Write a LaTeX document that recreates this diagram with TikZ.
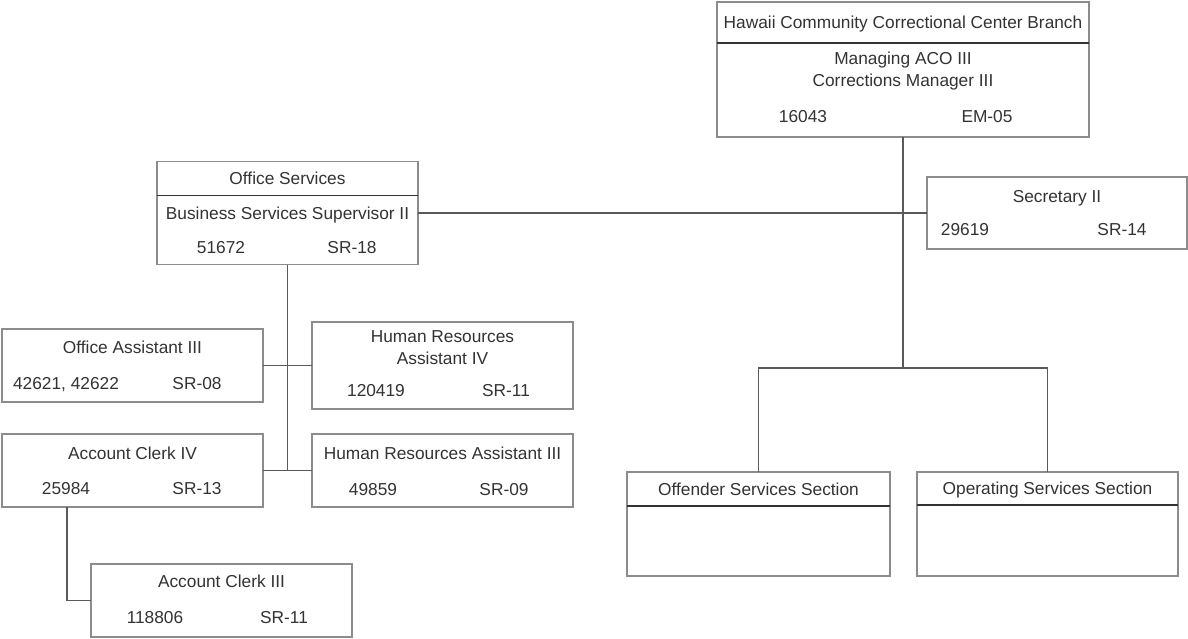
\documentclass[tikz,border=0pt]{standalone}
\usepackage{fontspec}
\setmainfont{Liberation Sans}
\usepackage{tikz}

\begin{document}
\begin{tikzpicture}[x=1pt,y=-1pt,
  box/.style={draw=boxGray, line width=1.1pt, fill=white, inner sep=0pt, outer sep=0pt},
  conn/.style={draw=lineGray, line width=1.1pt},
  divider/.style={draw=divGray, line width=1.3pt},
  lbl/.style={text=txtGray, inner sep=0pt, anchor=base,
    font=\fontsize{17.3}{22}\selectfont}]

% Colori
\definecolor{boxGray}{HTML}{8C8C8C}
\definecolor{lineGray}{HTML}{5A5A5A}
\definecolor{divGray}{HTML}{333333}
\definecolor{txtGray}{HTML}{333333}

\useasboundingbox (0,0) rectangle (1188,638);

% Riquadri
\node[box, minimum width=372pt, minimum height=135pt] (hccc) at (903,69.5) {};
\node[box, minimum width=260pt, minimum height=72pt] (sec) at (1057,213) {};
\node[box, minimum width=261pt, minimum height=103pt] (offsvc) at (287.5,213) {};
\node[box, minimum width=261pt, minimum height=73pt] (oa) at (132.5,365.5) {};
\node[box, minimum width=261pt, minimum height=87pt] (hr4) at (442.5,365.5) {};
\node[box, minimum width=261pt, minimum height=73pt] (ac4) at (132.5,470.5) {};
\node[box, minimum width=261pt, minimum height=73pt] (hr3) at (442.5,470.5) {};
\node[box, minimum width=261pt, minimum height=73pt] (ac3) at (221.5,600.5) {};
\node[box, minimum width=263pt, minimum height=104pt] (offender) at (758.5,524) {};
\node[box, minimum width=261pt, minimum height=104pt] (operating) at (1047.5,524) {};

% Linee di testata
\draw[divider] ([yshift=-41pt]hccc.north west) -- ([yshift=-41pt]hccc.north east);
\draw[divider] ([yshift=-34pt]offsvc.north west) -- ([yshift=-34pt]offsvc.north east);
\draw[divider] ([yshift=-34pt]offender.north west) -- ([yshift=-34pt]offender.north east);
\draw[divider] ([yshift=-33pt]operating.north west) -- ([yshift=-33pt]operating.north east);

% Collegamenti
\coordinate (split) at (903,368);
\draw[conn] (hccc.south) -- (split);
\draw[conn] (offender.north) |- (split) -| (operating.north);
\draw[conn] (offsvc.east) -- (sec.west);
\draw[conn] (offsvc.south) -- (offsvc.south |- hr3.west);
\draw[conn] (oa.east) -- (hr4.west);
\draw[conn] (ac4.east) -- (hr3.west);
\draw[conn] ([xshift=65pt]ac4.south west) |- (ac3.west);

% Testi: Branch
\node[lbl] (hcccT) at (903,28) {Hawaii Community Correctional Center Branch};
\node[lbl] (hcccA) at (903,64) {Managing ACO III};
\node[lbl] (hcccB) at (903,86) {Corrections Manager III};
\node[lbl] (hcccN) at (803,122) {16043};
\node[lbl] (hcccG) at (987,122) {EM-05};

% Secretary
\node[lbl] (secT) at (1057,202) {Secretary II};
\node[lbl] (secN) at (965,235) {29619};
\node[lbl] (secG) at (1122,235) {SR-14};

% Office Services
\node[lbl] (offsvcT) at (287.5,184) {Office Services};
\node[lbl] (offsvcA) at (287.5,219) {Business Services Supervisor II};
\node[lbl] (offsvcN) at (221,253) {51672};
\node[lbl] (offsvcG) at (352,253) {SR-18};

% Office Assistant III
\node[lbl] (oaT) at (132.5,353) {Office Assistant III};
\node[lbl] (oaN) at (66,389) {42621, 42622};
\node[lbl] (oaG) at (197,389) {SR-08};

% Human Resources Assistant IV
\node[lbl] (hr4T) at (442.5,342) {Human Resources};
\node[lbl] (hr4A) at (442.5,364) {Assistant IV};
\node[lbl] (hr4N) at (376,396) {120419};
\node[lbl] (hr4G) at (506,396) {SR-11};

% Account Clerk IV
\node[lbl] (ac4T) at (132.5,459) {Account Clerk IV};
\node[lbl] (ac4N) at (66,494) {25984};
\node[lbl] (ac4G) at (197,494) {SR-13};

% Human Resources Assistant III
\node[lbl] (hr3T) at (442.5,459) {Human Resources Assistant III};
\node[lbl] (hr3N) at (373,495) {49859};
\node[lbl] (hr3G) at (504,495) {SR-09};

% Account Clerk III
\node[lbl] (ac3T) at (221.5,587) {Account Clerk III};
\node[lbl] (ac3N) at (155,623) {118806};
\node[lbl] (ac3G) at (284,623) {SR-11};

% Sezioni
\node[lbl] (offenderT) at (758.5,495) {Offender Services Section};
\node[lbl] (operatingT) at (1047.5,494) {Operating Services Section};

\end{tikzpicture}
\end{document}
